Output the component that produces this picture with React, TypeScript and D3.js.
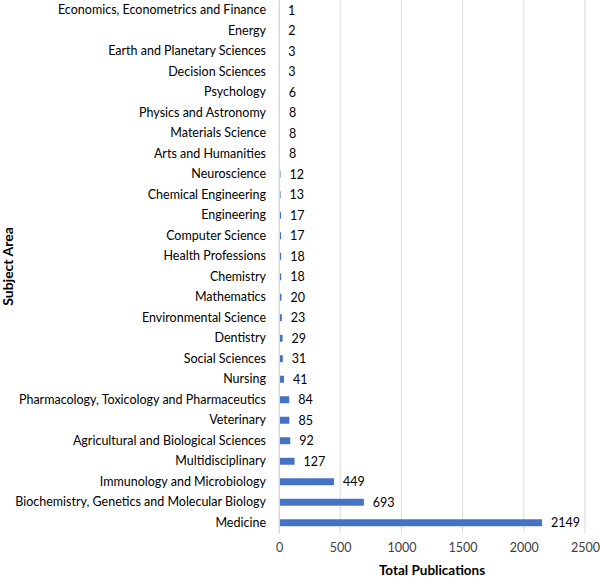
import React, { useRef, useEffect } from "react";
import * as d3 from "d3";

const categories = [
  "Economics, Econometrics and Finance",
  "Energy",
  "Earth and Planetary Sciences",
  "Decision Sciences",
  "Psychology",
  "Physics and Astronomy",
  "Materials Science",
  "Arts and Humanities",
  "Neuroscience",
  "Chemical Engineering",
  "Engineering",
  "Computer Science",
  "Health Professions",
  "Chemistry",
  "Mathematics",
  "Environmental Science",
  "Dentistry",
  "Social Sciences",
  "Nursing",
  "Pharmacology, Toxicology and Pharmaceutics",
  "Veterinary",
  "Agricultural and Biological Sciences",
  "Multidisciplinary",
  "Immunology and Microbiology",
  "Biochemistry, Genetics and Molecular Biology",
  "Medicine",
];

const publications = [
  1, 2, 3, 3, 6, 8, 8, 8, 12, 13, 17, 17, 18, 18, 20, 23, 29, 31, 41, 84, 85,
  92, 127, 449, 693, 2149,
];

const xTicks = [0, 500, 1000, 1500, 2000, 2500];

const App = () => {
  const chartRef = useRef<SVGSVGElement>(null);

  const width = 600,
    height = 578,
    marginLeft = 279,
    marginRight = 15,
    marginTop = 0,
    plotBottom = 533;

  useEffect(() => {
    if (!chartRef.current) return;
    const svg = d3.select(chartRef.current);
    svg.selectAll("*").remove();

    const font = "Lato, 'Open Sans', sans-serif";
    const x = d3
      .scaleLinear()
      .domain([0, 2500])
      .range([marginLeft, width - marginRight]);
    const y = d3
      .scaleBand()
      .domain(categories)
      .range([marginTop, plotBottom])
      .paddingInner(0.66)
      .paddingOuter(0.33);

    // gridlines
    svg
      .append("g")
      .selectAll("line")
      .data(xTicks)
      .join("line")
      .attr("x1", (d) => x(d))
      .attr("x2", (d) => x(d))
      .attr("y1", marginTop)
      .attr("y2", plotBottom)
      .attr("stroke", "#d9d9d9")
      .attr("stroke-width", 1);

    // bars
    svg
      .append("g")
      .selectAll("rect")
      .data(publications)
      .join("rect")
      .attr("x", x(0))
      .attr("y", (_, i) => y(categories[i])!)
      .attr("width", (d) => x(d) - x(0))
      .attr("height", y.bandwidth())
      .attr("fill", "#4472c4");

    // value labels
    svg
      .append("g")
      .selectAll("text")
      .data(publications)
      .join("text")
      .attr("x", (d) => x(d) + 9)
      .attr("y", (_, i) => y(categories[i])! + y.bandwidth() / 2)
      .attr("dy", "0.35em")
      .attr("fill", "#000")
      .style("font", `12.5px ${font}`)
      .text((d) => d);

    // y axis
    svg
      .append("g")
      .attr("transform", `translate(${marginLeft},0)`)
      .call(d3.axisLeft(y).tickSize(0).tickPadding(13))
      .call((g) => g.select(".domain").attr("stroke", "#d9d9d9"))
      .call((g) =>
        g
          .selectAll("text")
          .attr("fill", "#000")
          .style("font", `12.5px ${font}`)
      );

    // x axis
    svg
      .append("g")
      .attr("transform", `translate(0,${plotBottom})`)
      .call(
        d3
          .axisBottom(x)
          .tickValues(xTicks)
          .tickFormat(d3.format("d"))
          .tickSize(0)
          .tickPadding(10)
      )
      .call((g) => g.select(".domain").remove())
      .call((g) =>
        g
          .selectAll("text")
          .attr("fill", "#404040")
          .style("font", `12.5px ${font}`)
      );

    svg
      .append("text")
      .attr("x", (x(0) + x(2500)) / 2)
      .attr("y", 575)
      .attr("text-anchor", "middle")
      .style("font", `bold 13.5px ${font}`)
      .text("Total Publications");

    svg
      .append("text")
      .attr("transform", `translate(13,${plotBottom / 2}) rotate(-90)`)
      .attr("text-anchor", "middle")
      .style("font", `bold 14px ${font}`)
      .text("Subject Area");
  }, []);

  return (
    <div style={{ position: "absolute", left: 0, top: 0 }}>
      <svg ref={chartRef} width={width} height={height}></svg>
    </div>
  );
};

export default App;
